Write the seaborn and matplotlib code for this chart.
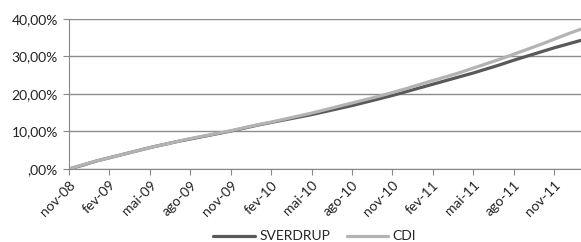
import numpy as np
import pandas as pd
import matplotlib.pyplot as plt
import seaborn as sns

months = ["nov-08", "dez-08", "jan-09", "fev-09", "mar-09", "abr-09", "mai-09", "jun-09",
          "jul-09", "ago-09", "set-09", "out-09", "nov-09", "dez-09", "jan-10", "fev-10",
          "mar-10", "abr-10", "mai-10", "jun-10", "jul-10", "ago-10", "set-10", "out-10",
          "nov-10", "dez-10", "jan-11", "fev-11", "mar-11", "abr-11", "mai-11", "jun-11",
          "jul-11", "ago-11", "set-11", "out-11", "nov-11", "dez-11", "jan-12"]

sverdrup = [0.0, 1.0, 2.1, 3.0, 3.9, 4.8, 5.7, 6.5, 7.3, 8.0, 8.7, 9.4, 10.1, 10.9, 11.7,
            12.4, 13.1, 13.8, 14.5, 15.3, 16.1, 16.9, 17.8, 18.7, 19.6, 20.6, 21.6, 22.6,
            23.6, 24.6, 25.6, 26.7, 27.8, 29.0, 30.1, 31.2, 32.3, 33.3, 34.3]

cdi = [0.0, 1.1, 2.1, 3.0, 3.9, 4.8, 5.7, 6.5, 7.3, 8.1, 8.8, 9.5, 10.2, 11.0, 11.8,
       12.5, 13.3, 14.1, 14.9, 15.8, 16.7, 17.6, 18.5, 19.4, 20.4, 21.4, 22.5, 23.6,
       24.6, 25.7, 26.9, 28.1, 29.3, 30.6, 31.9, 33.2, 34.6, 36.0, 37.3]

df = pd.DataFrame({
    "mes": list(range(len(months))) * 2,
    "valor": sverdrup + cdi,
    "serie": ["SVERDRUP"] * len(months) + ["CDI"] * len(months),
})

sns.set_style("white")
plt.rcParams["font.family"] = ["Lato", "DejaVu Sans"]

fig = plt.figure(figsize=(5.81, 2.42), dpi=100)
ax = fig.add_axes([0.1188, 0.3017, 0.8812, 0.6198])

sns.lineplot(data=df, x="mes", y="valor", hue="serie",
             palette={"SVERDRUP": "#595959", "CDI": "#b3b3b3"},
             linewidth=2.3, ax=ax)

ax.set_xlim(0, len(months) - 1)
ax.set_ylim(0, 40)
ax.set_yticks([0, 10, 20, 30, 40])
ax.set_yticklabels([",00%", "10,00%", "20,00%", "30,00%", "40,00%"], fontsize=10, color="#222222")
ticks = list(range(0, len(months), 3))
ax.set_xticks(ticks)
ax.set_xticklabels([months[i] for i in ticks], rotation=45, ha="right",
                   rotation_mode="anchor", fontsize=10, color="#222222")
ax.tick_params(axis="x", length=4, color="#888888", direction="out", pad=3, bottom=True)
ax.tick_params(axis="y", length=4, color="#888888", direction="out", pad=4, left=True)
ax.grid(axis="y", color="#8c8c8c", linewidth=1)
ax.set_axisbelow(True)
ax.set_xlabel("")
ax.set_ylabel("")
for s in ["top", "right"]:
    ax.spines[s].set_visible(False)
for s in ["left", "bottom"]:
    ax.spines[s].set_color("#888888")

ax.legend(loc="center", bbox_to_anchor=(0.48, -0.45), ncol=2, frameon=False,
          fontsize=10, handlelength=3.0, handletextpad=0.3, columnspacing=1.2,
          borderaxespad=0, borderpad=0)

fig.savefig("out.png", dpi=100)
